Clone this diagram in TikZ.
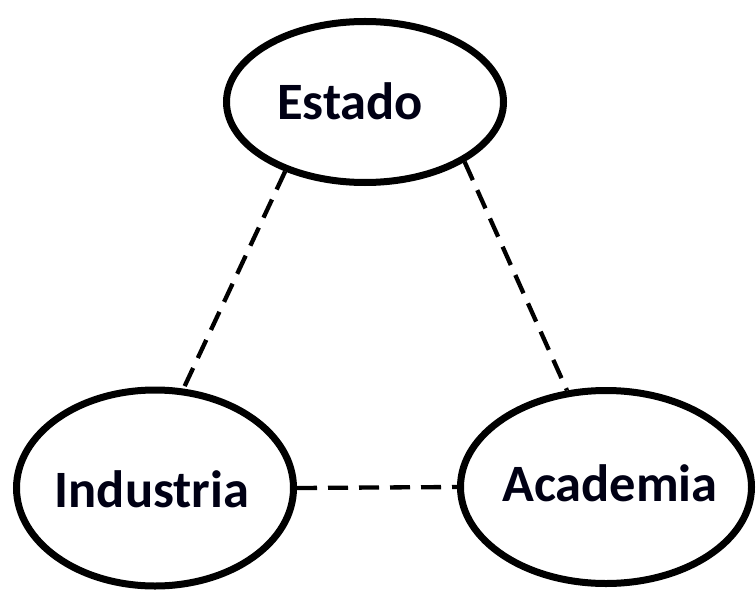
\documentclass[tikz,border=0pt]{standalone}
\usepackage{fontspec}
\setmainfont{Carlito}
\usetikzlibrary{shapes.geometric}
\begin{document}
\begin{tikzpicture}[x=1bp,y=-1bp,
  actor/.style={ellipse, draw=black, line width=7bp, inner sep=0pt},
  label/.style={font=\fontsize{52.5bp}{58bp}\selectfont\bfseries, text=black!92!blue},
  link/.style={line width=4.3bp, dash pattern=on 20bp off 11bp}]
\useasboundingbox (0,0) rectangle (756,594);
\node[actor, minimum width=277bp, minimum height=161bp] (estado) at (365,102) {};
\node[actor, minimum width=277bp, minimum height=196bp] (industria) at (155,488) {};
\node[actor, minimum width=291bp, minimum height=193bp] (academia) at (606,487) {};
\node[label] (testado) at (350,101) {Estado};
\node[label] (tindustria) at (152,489) {Industria};
\node[label] (tacademia) at (610,483) {Academia};
\draw[link] (estado.221) -- (industria.74);
\draw[link] (estado.-31) -- (academia.112);
\draw[link] (industria.east) -- (academia.west);
\end{tikzpicture}
\end{document}
